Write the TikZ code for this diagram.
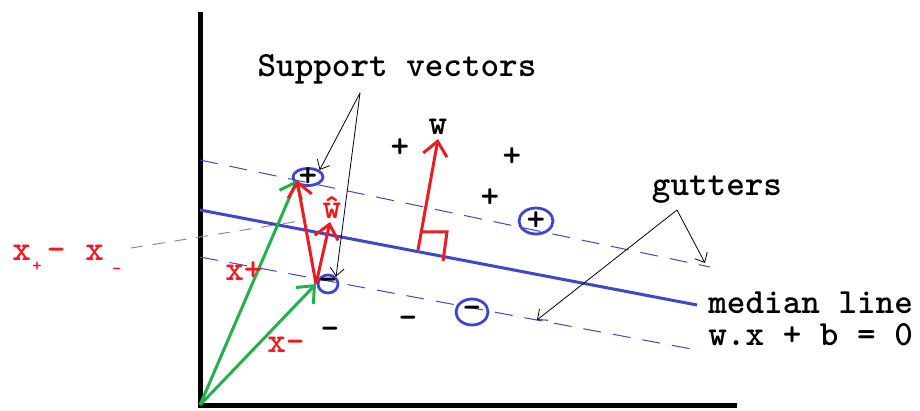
\documentclass[tikz,border=0pt]{standalone}
\usepackage{fontspec}
\usetikzlibrary{arrows.meta,shapes.geometric}
\definecolor{svblue}{HTML}{3F48CC}
\definecolor{svred}{HTML}{ED1C24}
\definecolor{svgreen}{HTML}{22B14C}
\definecolor{guidegray}{HTML}{8C8C8C}
\newcommand{\lblfont}{\fontsize{17.7}{19}\selectfont\ttfamily\bfseries}
\newcommand{\ringsign}[1]{\makebox[0pt]{\raisebox{-.5\height}[0pt][0pt]{#1}}}
\newcommand{\lowsign}[2]{\raisebox{#1}{\fontsize{9}{9}\selectfont #2}}
\tikzset{
  axis/.style={line width=2.5pt,draw=black},
  median/.style={line width=1.5pt,draw=svblue},
  gutter/.style={line width=0.5pt,draw=svblue,dash pattern=on 9pt off 6pt},
  ring/.style={ellipse,draw=svblue,line width=1.4pt,inner sep=0pt,
               font=\lblfont},
  sign/.style={font=\lblfont,inner sep=0pt},
  txt/.style={font=\lblfont,inner sep=0pt},
  redtxt/.style={font=\lblfont,inner sep=0pt,text=svred},
  redarr/.style={-{Straight Barb[length=7pt,width=12pt]},line width=1.5pt,
                 draw=svred},
  greenarr/.style={-{Straight Barb[length=7pt,width=12pt]},line width=1.5pt,
                   draw=svgreen},
  redline/.style={line width=1.5pt,draw=svred},
  callout/.style={-{Straight Barb[length=4pt,width=7pt]},line width=0.4pt,
                  draw=black},
  guide/.style={line width=0.5pt,draw=guidegray,dash pattern=on 6pt off 5pt}
}
\begin{document}
\begin{tikzpicture}[x=0.5pt,y=-0.5pt]
  \path[use as bounding box] (0,0) rectangle (920,411);
  % axes
  \coordinate (ytop) at (200,12);
  \coordinate (O) at (200,405);
  \coordinate (xend) at (737,405);
  \draw[axis] (ytop) -- (O) -- (xend);
  % gutters and median line
  \coordinate (gua) at (200,160);
  \coordinate (gub) at (710,267);
  \coordinate (gla) at (200,257);
  \coordinate (glb) at (697,350);
  \coordinate (ma) at (200,210);
  \coordinate (mb) at (697,305);
  \draw[gutter] (gua) -- (gub);
  \draw[gutter] (gla) -- (glb);
  \draw[median] (ma) -- (mb);
  % support vectors
  \node[ring,minimum width=15pt,minimum height=8.5pt] (svp1) at (308,177) {\ringsign{+}};
  \node[ring,minimum width=10pt,minimum height=9pt] (svm1) at (328,284) {\ringsign{-}};
  \node[ring,minimum width=17pt,minimum height=13pt] (svp2) at (536,221) {\ringsign{+}};
  \node[ring,minimum width=16pt,minimum height=13pt] (svm2) at (472,312) {\ringsign{-}};
  % other samples
  \node[sign] (p1) at (400,148) {+};
  \node[sign] (p2) at (512,157) {+};
  \node[sign] (p3) at (490,198) {+};
  \node[sign] (m1) at (330,333) {-};
  \node[sign] (m2) at (408,322) {-};
  % w and right angle
  \coordinate (foot) at (418,250);
  \coordinate (wtip) at (438,139);
  \draw[redarr] (foot) -- (wtip);
  \coordinate (ra1) at (420,232);
  \coordinate (ra2) at (447,232);
  \coordinate (ra3) at (443,261);
  \draw[redline] (ra1) -- (ra2) -- (ra3);
  \node[txt,anchor=base] (wlbl) at (438,135) {w};
  % vectors
  \coordinate (xp) at (297,180);
  \coordinate (xm) at (316,284);
  \coordinate (what) at (330,222);
  \draw[greenarr] (O) -- (xp);
  \draw[greenarr] (O) -- (xm);
  \draw[redarr] (xm) -- (xp);
  \draw[redarr] (xm) -- (what);
  \node[redtxt,anchor=base] (whatlbl) at (332,219) {\^{w}};
  \node[redtxt,anchor=base west] (xplbl) at (225,280) {x+};
  \node[redtxt,anchor=base west] (xmlbl) at (267,352) {x-};
  % difference label
  \node[redtxt,anchor=base west] (diff) at (12,261)
    {x\hspace{0.7pt}\lowsign{-5.5pt}{+}\hspace{2.5pt}-\hspace{10pt}x\hspace{4pt}\lowsign{-6.5pt}{-}};
  \coordinate (difftail) at (131,248);
  \coordinate (diffhead) at (300,221);
  \draw[guide] (difftail) -- (diffhead);
  % labels and callouts
  \node[txt,anchor=base] (svlbl) at (397,77) {Support vectors};
  \coordinate (svtip) at (360,93);
  \draw[callout] (svtip) -- (svp1.north east);
  \draw[callout] (svtip) -- (svm1.north east);
  \node[txt,anchor=base] (gutlbl) at (717,196) {gutters};
  \coordinate (guttip) at (677,210);
  \coordinate (gutlow) at (537,320);
  \coordinate (gutup) at (705,263);
  \draw[callout] (guttip) -- (gutlow);
  \draw[callout] (guttip) -- (gutup);
  \node[txt,anchor=base west] (medlbl) at (708,313) {median line};
  \node[txt,anchor=base west] (eqlbl) at (708,345) {w.x + b = 0};
\end{tikzpicture}
\end{document}
